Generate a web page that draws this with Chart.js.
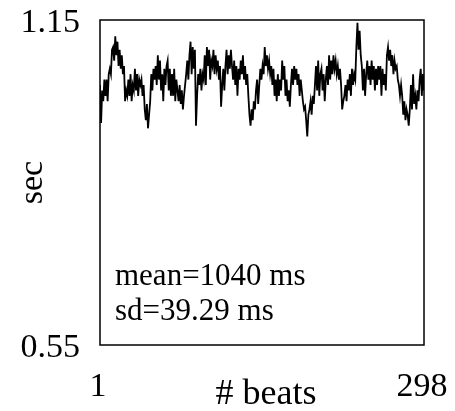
<!DOCTYPE html>
<html>
<head>
<meta charset="utf-8">
<script src="https://cdn.jsdelivr.net/npm/chart.js@4/dist/chart.umd.min.js"></script>
<style>
    html, body { margin: 0; padding: 0; background: #fff; }
    #wrap { width: 455px; height: 411px; }
</style>
</head>
<body>
<div id="wrap"><canvas id="rr-chart" width="455" height="411"></canvas></div>
<script>
// RR intervals (sec), beat 1..298
var rr = [
    1.03, 0.96, 1.02, 1.00, 1.04, 1.01, 1.04, 1.00, 1.05, 1.06,
    1.05, 1.095, 1.10, 1.075, 1.12, 1.085, 1.11, 1.065, 1.095, 1.06,
    1.085, 1.05, 1.065, 1.00, 1.02, 1.01, 1.04, 1.01, 1.05, 1.00,
    1.03, 1.02, 1.06, 1.02, 1.05, 1.01, 1.04, 1.03, 1.04, 1.01,
    1.03, 0.985, 0.965, 0.995, 0.95, 0.975, 1.00, 1.05, 1.02, 1.06,
    1.04, 1.065, 1.03, 1.085, 1.04, 1.075, 1.02, 1.05, 1.00, 1.06,
    1.03, 1.065, 1.075, 1.02, 1.06, 1.01, 1.05, 1.01, 1.06, 1.00,
    1.04, 1.02, 1.00, 1.03, 0.995, 1.02, 0.985, 1.01, 1.03, 1.05,
    1.075, 1.04, 1.085, 1.11, 1.05, 1.10, 1.06, 1.095, 0.955, 1.01,
    1.05, 1.03, 1.06, 1.02, 1.05, 1.04, 1.085, 1.03, 1.10, 1.065,
    1.095, 1.04, 1.075, 1.065, 1.095, 1.05, 1.085, 1.06, 1.075, 1.04,
    1.065, 0.99, 1.03, 1.06, 1.02, 1.065, 1.095, 1.05, 1.085, 1.06,
    1.095, 1.065, 1.04, 1.075, 1.03, 1.065, 1.01, 1.06, 1.04, 1.075,
    1.05, 1.085, 1.04, 1.065, 1.03, 1.05, 1.01, 0.975, 0.955, 0.985,
    0.965, 1.00, 0.985, 1.02, 1.04, 0.995, 1.03, 1.06, 1.04, 1.065,
    1.05, 1.10, 1.065, 1.085, 1.06, 1.075, 1.05, 1.065, 1.03, 1.06,
    1.01, 1.04, 1.00, 1.05, 1.01, 1.04, 1.02, 1.075, 1.04, 1.065,
    1.01, 1.04, 1.00, 1.02, 0.99, 1.03, 1.06, 1.03, 1.065, 1.04,
    1.06, 1.03, 1.05, 1.01, 1.04, 1.02, 1.00, 0.985, 0.99, 0.965,
    0.935, 0.975, 0.985, 1.00, 0.975, 1.01, 0.995, 1.03, 1.065, 1.02,
    1.075, 1.01, 1.05, 1.06, 1.02, 1.05, 1.00, 1.04, 1.065, 1.03,
    1.085, 1.04, 1.075, 1.05, 1.085, 1.06, 1.075, 1.05, 1.065, 1.04,
    1.06, 1.03, 0.985, 1.00, 1.01, 1.03, 1.00, 1.04, 1.02, 1.05,
    1.01, 1.06, 1.03, 1.05, 1.04, 1.10, 1.145, 1.095, 1.13, 1.085,
    1.065, 1.02, 1.06, 1.01, 1.05, 1.075, 1.04, 1.065, 1.03, 1.075,
    1.04, 1.065, 1.02, 1.06, 1.03, 1.065, 1.04, 1.065, 1.01, 1.06,
    1.03, 1.05, 1.02, 1.085, 1.10, 1.075, 1.095, 1.065, 1.085, 1.05,
    1.075, 1.06, 1.065, 1.04, 1.03, 1.01, 1.03, 1.01, 0.975, 1.00,
    0.965, 0.985, 0.975, 0.955, 0.985, 1.03, 0.985, 1.05, 0.995, 1.01,
    0.985, 1.02, 1.00, 1.04, 1.06, 1.01, 1.05, 1.02
];
var beats = rr.map(function (v, i) { return i + 1; });
var xTicks = [1, 298];
var yTicks = [0.55, 1.15];
var yTickLabels = ['0.55', '1.15'];
var notes = ['mean=1040 ms', 'sd=39.29 ms'];

var serif = '"Liberation Serif", "Times New Roman", serif';

var labelsPlugin = {
    id: 'rrLabels',
    afterDraw: function (chart) {
        var ctx = chart.ctx;
        var a = chart.chartArea;
        var sx = chart.scales.x;
        var sy = chart.scales.y;
        ctx.save();
        // frame
        ctx.strokeStyle = '#000';
        ctx.lineWidth = 1.5;
        ctx.strokeRect(a.left, a.top, a.right - a.left, a.bottom - a.top);

        ctx.fillStyle = '#000';
        ctx.font = '34px ' + serif;
        ctx.textBaseline = 'alphabetic';

        // y tick labels
        ctx.textAlign = 'right';
        yTicks.forEach(function (t, i) {
            ctx.fillText(yTickLabels[i], a.left - 20, sy.getPixelForValue(t) + 12);
        });

        // x tick labels
        ctx.textAlign = 'center';
        xTicks.forEach(function (t) {
            ctx.fillText(String(t), sx.getPixelForValue(t) - 2, a.bottom + 51);
        });

        // axis titles
        ctx.font = '36px ' + serif;
        ctx.fillText('# beats', (a.left + a.right) / 2 + 4, a.bottom + 59);
        ctx.save();
        ctx.translate(42, (a.top + a.bottom) / 2);
        ctx.rotate(-Math.PI / 2);
        ctx.font = '34px ' + serif;
        ctx.fillText('sec', 0, 0);
        ctx.restore();

        // stats
        ctx.font = '31px ' + serif;
        ctx.textAlign = 'left';
        ctx.fillText(notes[0], a.left + 15, 285);
        ctx.fillText(notes[1], a.left + 15, 320);
        ctx.restore();
    }
};

new Chart(document.getElementById('rr-chart').getContext('2d'), {
    type: 'line',
    data: {
        datasets: [{
            data: rr.map(function (v, i) { return { x: beats[i], y: v }; }),
            borderColor: '#000',
            borderWidth: 1.8,
            pointRadius: 0,
            tension: 0,
            fill: false
        }]
    },
    options: {
        responsive: false,
        animation: false,
        layout: { padding: { left: 100, top: 20, right: 31, bottom: 66 } },
        plugins: { legend: { display: false }, tooltip: { enabled: false } },
        scales: {
            x: {
                type: 'linear', min: 1, max: 298,
                display: false
            },
            y: {
                min: 0.55, max: 1.15,
                display: false
            }
        }
    },
    plugins: [labelsPlugin]
});
</script>
</body>
</html>
